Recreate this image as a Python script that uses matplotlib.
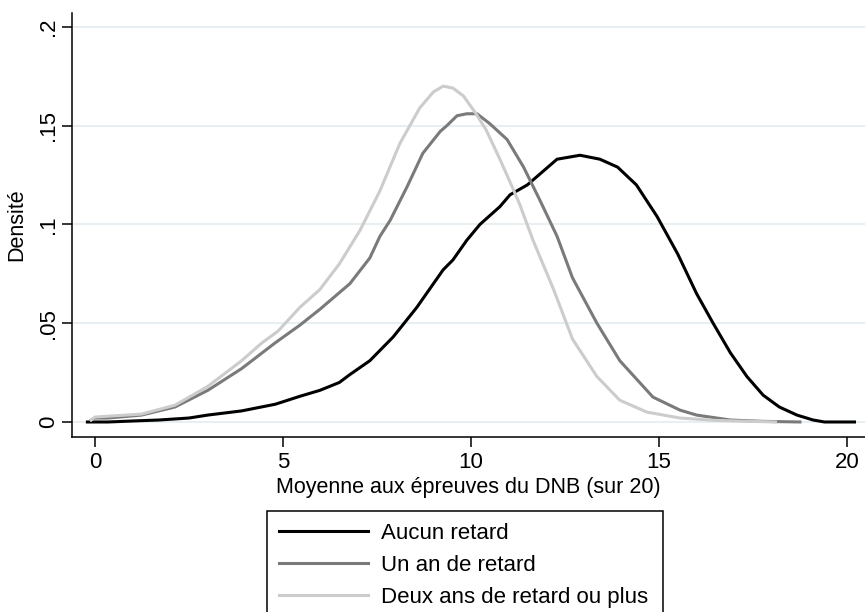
import matplotlib
matplotlib.use('Agg')
import matplotlib.pyplot as plt

# Aucun retard
x_aucun = [-0.2, 0.35, 1.0, 1.7, 2.5, 3.0, 3.9, 4.8, 5.45, 5.98, 6.5, 6.78, 7.31, 7.93,
           8.56, 9.26, 9.52, 9.89, 10.24, 10.77, 11.04, 11.5, 12.29, 12.9, 13.43, 13.9,
           14.4, 14.95, 15.5, 16.0, 16.44, 16.9, 17.34, 17.77, 18.2, 18.67, 19.1, 19.4, 20.2]
d_aucun = [0.0, 0.0, 0.0005, 0.001, 0.002, 0.0035, 0.0056, 0.009, 0.013, 0.016, 0.020,
           0.024, 0.031, 0.043, 0.058, 0.077, 0.082, 0.092, 0.100, 0.109, 0.115, 0.120,
           0.133, 0.135, 0.133, 0.129, 0.120, 0.104, 0.085, 0.065, 0.050, 0.035, 0.023,
           0.0136, 0.0076, 0.0035, 0.001, 0.0, 0.0]

# Un an de retard
x_un_an = [-0.1, 0.0, 0.35, 1.24, 2.13, 3.0, 3.9, 4.79, 5.45, 5.98, 6.78, 7.31, 7.58,
           7.85, 8.3, 8.72, 9.18, 9.36, 9.63, 9.89, 10.16, 10.5, 10.96, 11.4, 11.84,
           12.29, 12.7, 13.35, 13.96, 14.84, 15.56, 16.0, 16.9, 17.8, 18.75]
d_un_an = [0.001, 0.002, 0.002, 0.0035, 0.0076, 0.016, 0.027, 0.040, 0.049, 0.057, 0.070,
           0.083, 0.094, 0.102, 0.119, 0.136, 0.147, 0.150, 0.155, 0.156, 0.156, 0.151,
           0.143, 0.129, 0.112, 0.094, 0.073, 0.050, 0.031, 0.0126, 0.006, 0.0035, 0.001,
           0.0003, 0.0]

# Deux ans de retard ou plus
x_deux = [-0.1, 0.0, 1.24, 2.13, 3.0, 3.9, 4.44, 4.87, 5.45, 5.98, 6.5, 7.05, 7.58, 8.11,
          8.64, 9.0, 9.26, 9.52, 9.8, 10.1, 10.4, 10.77, 11.12, 11.3, 11.65, 12.2, 12.7,
          13.35, 13.96, 14.68, 15.56, 16.5, 18.1]
d_deux = [0.001, 0.0025, 0.004, 0.0085, 0.018, 0.031, 0.040, 0.046, 0.058, 0.067, 0.080,
          0.097, 0.117, 0.141, 0.159, 0.167, 0.170, 0.169, 0.165, 0.157, 0.148, 0.133,
          0.118, 0.110, 0.092, 0.067, 0.042, 0.023, 0.011, 0.005, 0.002, 0.0008, 0.0]

x_ticks = [0, 5, 10, 15, 20]
y_ticks = [0, 0.05, 0.1, 0.15, 0.2]
y_ticklabels = ['0', '.05', '.1', '.15', '.2']

plt.rcParams['font.family'] = ['Liberation Sans', 'DejaVu Sans']

fig = plt.figure(figsize=(8.65, 6.12), dpi=100)
ax = fig.add_axes([72 / 865, 1 - 437 / 612, 793 / 865, 424 / 612])

ax.plot(x_aucun, d_aucun, color='black', lw=2.2, label='Aucun retard')
ax.plot(x_un_an, d_un_an, color='#7a7a7a', lw=2.2, label='Un an de retard')
ax.plot(x_deux, d_deux, color='#cccccc', lw=2.2, label='Deux ans de retard ou plus')

ax.set_xlim(-0.61, 20.48)
ax.set_ylim(-0.0076, 0.207)
ax.set_xticks(x_ticks)
ax.set_yticks(y_ticks)
ax.set_yticklabels(y_ticklabels, rotation=90, va='center')
ax.tick_params(axis='both', labelsize=16, length=7, width=1.1, pad=4)
ax.tick_params(axis='y', pad=2)

ax.grid(True, axis='y', color='#e6eef1', lw=1.3)
ax.set_axisbelow(True)
for s in ['top', 'right']:
    ax.spines[s].set_visible(False)
for s in ['left', 'bottom']:
    ax.spines[s].set_linewidth(1.1)

ax.set_xlabel('Moyenne aux épreuves du DNB (sur 20)', fontsize=15.5, labelpad=3)
ax.set_ylabel('Densité', fontsize=15.5, labelpad=8)

leg = fig.legend(loc='upper left', bbox_to_anchor=(267 / 865, 1 - 511 / 612, 396 / 865, 0),
                 mode='expand', borderaxespad=0, fontsize=16, handlelength=4.0,
                 handletextpad=0.6, labelspacing=0.49, borderpad=0.55,
                 fancybox=False, edgecolor='black', framealpha=1)
leg.get_frame().set_linewidth(1.1)

fig.savefig('out.png', dpi=100)
